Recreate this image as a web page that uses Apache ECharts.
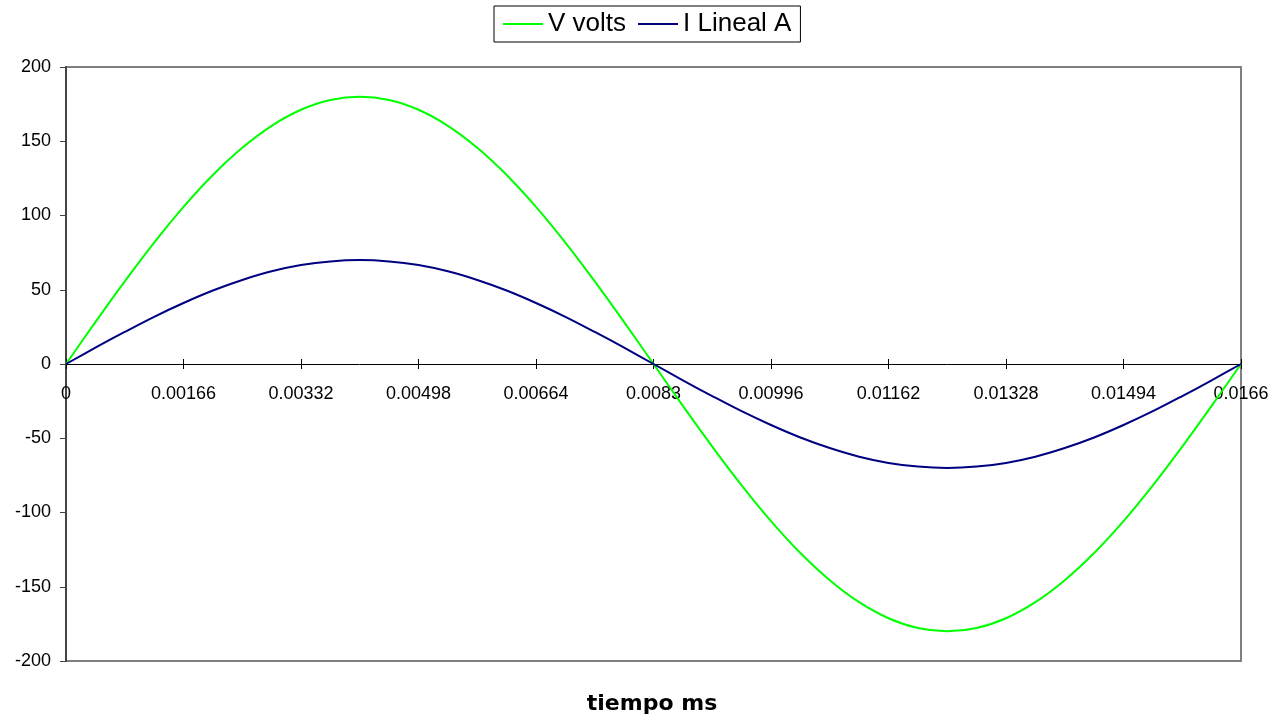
<!DOCTYPE html>
<html>
<head>
<meta charset="utf-8">
<script src="https://cdn.jsdelivr.net/npm/echarts@6/dist/echarts.min.js"></script>
<style>html,body{margin:0;padding:0;background:#fff}#c{width:1284px;height:721px}</style>
</head>
<body>
<div id="c"></div>
<script>
// time values (s), step 0.000415
const times = [0,0.000415,0.00083,0.001245,0.00166,0.002075,0.00249,0.002905,0.00332,0.003735,0.00415,
  0.004565,0.00498,0.005395,0.00581,0.006225,0.00664,0.007055,0.00747,0.007885,0.0083,
  0.008715,0.00913,0.009545,0.00996,0.010375,0.01079,0.011205,0.01162,0.012035,0.01245,
  0.012865,0.01328,0.013695,0.01411,0.014525,0.01494,0.015355,0.01577,0.016185,0.0166];
const vVolts = [0,28.2,55.6,81.7,105.8,127.3,145.6,160.4,171.2,177.8,180,
  177.8,171.2,160.4,145.6,127.3,105.8,81.7,55.6,28.2,0,
  -28.2,-55.6,-81.7,-105.8,-127.3,-145.6,-160.4,-171.2,-177.8,-180,
  -177.8,-171.2,-160.4,-145.6,-127.3,-105.8,-81.7,-55.6,-28.2,0];
const iLineal = [0,11.0,21.6,31.8,41.1,49.5,56.6,62.4,66.6,69.1,70,
  69.1,66.6,62.4,56.6,49.5,41.1,31.8,21.6,11.0,0,
  -11.0,-21.6,-31.8,-41.1,-49.5,-56.6,-62.4,-66.6,-69.1,-70,
  -69.1,-66.6,-62.4,-56.6,-49.5,-41.1,-31.8,-21.6,-11.0,0];
const xTickLabels = ['0','0.00166','0.00332','0.00498','0.00664','0.0083','0.00996','0.01162','0.01328','0.01494','0.0166'];
const seriesNames = ['V volts','I Lineal A'];

const chart = echarts.init(document.getElementById('c'), null, {renderer:'canvas'});
const font = 'Liberation Sans, Arial, Helvetica, sans-serif';
const gridH = 721 - 67 - 60;
const fmt = (v)=>{const i=Math.round(v/0.00166); return xTickLabels[i]!==undefined?xTickLabels[i]:'';};
chart.setOption({
  animation:false,
  backgroundColor:'#fff',
  title:{text:'tiempo ms', left:647, textAlign:'center', bottom:1, textStyle:{fontFamily:'DejaVu Sans', fontSize:22, fontWeight:'bold', color:'#000'}},
  legend:{
    data:seriesNames, top:6, left:494, padding:[5,9,5,9],
    borderColor:'#000', borderWidth:1, itemGap:12, itemWidth:40, itemHeight:2, icon:'rect',
    textStyle:{fontFamily:font, fontSize:26, color:'#000'}
  },
  grid:{left:66, right:43, top:67, bottom:60, show:true, borderColor:'#808080', borderWidth:2, backgroundColor:'transparent'},
  xAxis:[{
    type:'value', min:0, max:0.0166, interval:0.00166, position:'bottom', offset:-gridH/2,
    axisLine:{show:true, onZero:false, lineStyle:{color:'#000', width:1}},
    axisTick:{show:true, inside:false, length:5, lineStyle:{color:'#000'}},
    axisLabel:{fontFamily:font, fontSize:18, color:'#000', margin:21, showMaxLabel:true, showMinLabel:true, formatter:fmt},
    splitLine:{show:false}
  },{
    type:'value', min:0, max:0.0166, interval:0.00166, position:'bottom', offset:-gridH/2,
    axisLine:{show:false, onZero:false},
    axisTick:{show:true, inside:true, length:5, lineStyle:{color:'#000'}},
    axisLabel:{show:false},
    splitLine:{show:false}
  }],
  yAxis:{
    type:'value', min:-200, max:200, interval:50,
    axisLine:{show:true, lineStyle:{color:'#444', width:2}},
    axisTick:{show:true, length:6, lineStyle:{color:'#444'}},
    axisLabel:{fontFamily:font, fontSize:18, color:'#000', margin:15, lineHeight:24, padding:[5,0,0,0]},
    splitLine:{show:false}
  },
  series:[
    {name:seriesNames[0], type:'line', smooth:0.35, showSymbol:false, symbol:'none', data:times.map((t,i)=>[t,vVolts[i]]), lineStyle:{color:'#00ff00', width:2}, itemStyle:{color:'#00ff00'}},
    {name:seriesNames[1], type:'line', smooth:0.35, showSymbol:false, symbol:'none', data:times.map((t,i)=>[t,iLineal[i]]), lineStyle:{color:'#000080', width:2}, itemStyle:{color:'#000080'}}
  ]
});
</script>
</body>
</html>
